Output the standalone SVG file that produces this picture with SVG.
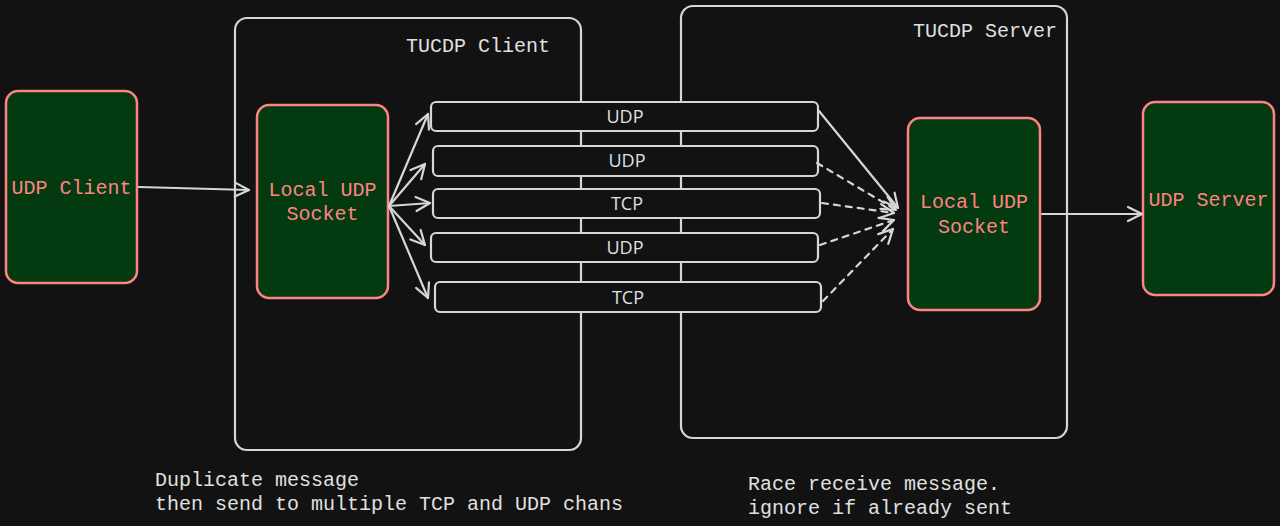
<svg xmlns="http://www.w3.org/2000/svg" width="1280" height="526" viewBox="0 0 1280 526">
<style>
.node{fill:#033a10;stroke:#ff8383;stroke-width:2.5}
.box{fill:none;stroke:#d6d6d6;stroke-width:2.2}
.chan{fill:#121212;stroke:#d6d6d6;stroke-width:2.2}
.ntext{font-family:"Liberation Mono","DejaVu Sans Mono",monospace;font-size:20px;fill:#ff8383;text-anchor:middle}
.title{font-family:"Liberation Mono","DejaVu Sans Mono",monospace;font-size:20px;fill:#e0e0e0}
.ctext{font-family:"Open Sans","Liberation Sans",sans-serif;font-size:18px;fill:#e0e0e0;text-anchor:middle}
.edge{fill:none;stroke:#d6d6d6;stroke-width:2.2;stroke-linecap:round}
.dash{stroke-dasharray:6 6}
</style>
<defs>
<marker id="arr" viewBox="0 0 20 20" refX="18" refY="10" markerWidth="20" markerHeight="20" markerUnits="userSpaceOnUse" orient="auto">
<path d="M4 3 L18 10 L4 17" fill="none" stroke="#d6d6d6" stroke-width="2.2" stroke-linecap="round" stroke-linejoin="round"/>
</marker>
</defs>
<rect width="1280" height="526" fill="#121212"/>

<g id="tucdp-client">
<rect class="box" x="235" y="18" width="346" height="432" rx="12"/>
<text class="title" x="406" y="52">TUCDP Client</text>
</g>
<g id="tucdp-server">
<rect class="box" x="681" y="6" width="386" height="432" rx="12"/>
<text class="title" x="913" y="37">TUCDP Server</text>
</g>

<g id="udp-client">
<rect class="node" x="6" y="91" width="131" height="192" rx="12"/>
<text class="ntext" x="71.5" y="194">UDP Client</text>
</g>
<g id="client-socket">
<rect class="node" x="257" y="105" width="131" height="193" rx="12"/>
<text class="ntext" x="322.5" y="196">Local UDP</text>
<text class="ntext" x="322.5" y="220">Socket</text>
</g>
<g id="server-socket">
<rect class="node" x="908" y="118" width="132" height="192" rx="12"/>
<text class="ntext" x="974" y="208">Local UDP</text>
<text class="ntext" x="974" y="233">Socket</text>
</g>
<g id="udp-server">
<rect class="node" x="1143" y="102" width="131" height="193" rx="12"/>
<text class="ntext" x="1208.5" y="206">UDP Server</text>
</g>

<g id="chan1"><rect class="chan" x="431" y="102" width="387" height="29" rx="5"/><text class="ctext" x="625" y="123">UDP</text></g>
<g id="chan2"><rect class="chan" x="433" y="146" width="385" height="30" rx="5"/><text class="ctext" x="627" y="167">UDP</text></g>
<g id="chan3"><rect class="chan" x="433" y="189" width="387" height="29" rx="5"/><text class="ctext" x="627" y="210">TCP</text></g>
<g id="chan4"><rect class="chan" x="431" y="233" width="387" height="29" rx="5"/><text class="ctext" x="625" y="254">UDP</text></g>
<g id="chan5"><rect class="chan" x="435" y="282" width="386" height="30" rx="5"/><text class="ctext" x="628" y="304">TCP</text></g>

<g id="connectors">
<path class="edge" d="M139 187 L249 190" marker-end="url(#arr)"/>
<path class="edge" d="M389 206 L428 114" marker-end="url(#arr)"/>
<path class="edge" d="M389 206 L425 164" marker-end="url(#arr)"/>
<path class="edge" d="M389 206 L430 203" marker-end="url(#arr)"/>
<path class="edge" d="M389 206 L425 245" marker-end="url(#arr)"/>
<path class="edge" d="M389 206 L428 298" marker-end="url(#arr)"/>
<path class="edge" d="M819 111 L898 208" marker-end="url(#arr)"/>
<path class="edge dash" d="M817 163 L896 210" marker-end="url(#arr)"/>
<path class="edge dash" d="M822 203 L894 213" marker-end="url(#arr)"/>
<path class="edge dash" d="M820 245 L894 220" marker-end="url(#arr)"/>
<path class="edge dash" d="M823 301 L893 229" marker-end="url(#arr)"/>
<path class="edge" d="M1042 214 L1142 214" marker-end="url(#arr)"/>
</g>

<g id="notes">
<text class="title" x="155" y="486">Duplicate message</text>
<text class="title" x="155" y="510">then send to multiple TCP and UDP chans</text>
<text class="title" x="748" y="490">Race receive message.</text>
<text class="title" x="748" y="514">ignore if already sent</text>
</g>
</svg>
